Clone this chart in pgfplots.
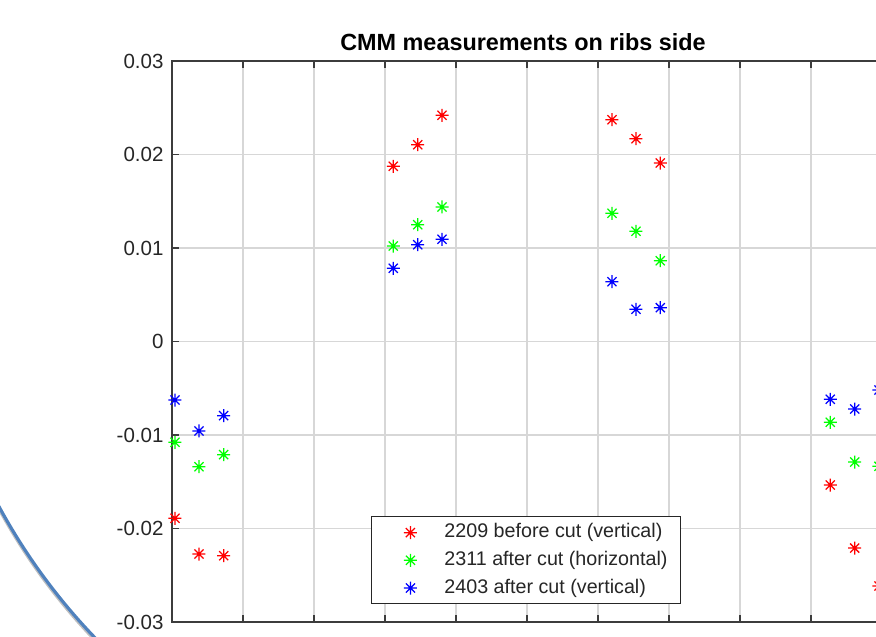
\documentclass[border=0pt]{standalone}
\usepackage{pgfplots}
\pgfplotsset{compat=1.18}
\usepackage{fontspec}
\setmainfont{Liberation Sans}
\definecolor{axgray}{RGB}{60,60,60}
\definecolor{txtgray}{RGB}{38,38,38}
\definecolor{gridgray}{RGB}{215,215,215}
\definecolor{arcblue}{RGB}{79,129,189}
\pgfdeclareplotmark{mstar}{%
  \pgfpathmoveto{\pgfqpoint{-\pgfplotmarksize}{0pt}}\pgfpathlineto{\pgfqpoint{\pgfplotmarksize}{0pt}}%
  \pgfpathmoveto{\pgfqpoint{0pt}{-\pgfplotmarksize}}\pgfpathlineto{\pgfqpoint{0pt}{\pgfplotmarksize}}%
  \pgfpathmoveto{\pgfqpoint{-0.7\pgfplotmarksize}{-0.7\pgfplotmarksize}}\pgfpathlineto{\pgfqpoint{0.7\pgfplotmarksize}{0.7\pgfplotmarksize}}%
  \pgfpathmoveto{\pgfqpoint{-0.7\pgfplotmarksize}{0.7\pgfplotmarksize}}\pgfpathlineto{\pgfqpoint{0.7\pgfplotmarksize}{-0.7\pgfplotmarksize}}%
  \pgfusepathqstroke}

\pgfplotstableread{
x y
0.042 -0.01891
0.380 -0.02273
0.728 -0.02291
3.117 0.01874
3.461 0.02105
3.803 0.02419
6.197 0.02372
6.535 0.02169
6.877 0.01909
9.272 -0.01535
9.615 -0.02209
9.957 -0.02615
}\redtab
\pgfplotstableread{
x y
0.042 -0.01078
0.380 -0.01339
0.728 -0.01210
3.117 0.01021
3.461 0.01249
3.803 0.01439
6.197 0.01371
6.535 0.01179
6.877 0.00864
9.272 -0.00864
9.615 -0.01289
9.957 -0.01335
}\greentab
\pgfplotstableread{
x y
0.042 -0.00626
0.380 -0.00957
0.728 -0.00793
3.117 0.00783
3.461 0.01035
3.803 0.01093
6.197 0.00640
6.535 0.00344
6.877 0.00362
9.272 -0.00618
9.615 -0.00722
9.957 -0.00519
}\bluetab

\begin{document}
\begin{tikzpicture}
\begin{axis}[
  scale only axis,
  width=745.5pt, height=561pt,
  xmin=0, xmax=10.5,
  ymin=-0.03, ymax=0.03,
  xtick={0,1,...,10},
  xticklabel=\empty,
  ytick={-0.03,-0.02,-0.01,0,0.01,0.02,0.03},
  yticklabels={-0.03,-0.02,-0.01,0,0.01,0.02,0.03},
  scaled y ticks=false,
  yticklabel style={font=\fontsize{20.5}{24}\selectfont, text=txtgray, anchor=east, xshift=-5pt},
  tick align=inside,
  major tick length=7pt,
  tick style={axgray, line width=1.1pt},
  axis line style={axgray, line width=1.2pt},
  grid=major,
  major grid style={gridgray, line width=1.1pt},
  clip=false,
  title={CMM measurements on ribs side},
  title style={font=\bfseries\fontsize{23.4}{27}\selectfont, at={(axis cs:4.944,0.03)}, anchor=base, yshift=4.5pt, inner sep=0pt},
  legend cell align=left,
  legend image code/.code={\path[draw=none] (0pt,0pt) -- (60pt,0pt); \path[#1, draw=none] plot coordinates {(30pt,0pt)};},
  legend style={at={(axis cs:2.803,-0.02811)}, anchor=south west,
    draw=txtgray, line width=0.9pt, fill=white,
    font=\fontsize{19.7}{23}\selectfont, text=txtgray,
    inner xsep=9pt, inner ysep=2pt, row sep=0pt,
    nodes={text height=14.2pt, text depth=4pt, inner ysep=4.75pt, inner xsep=4pt, anchor=west}},
]
\addplot[only marks, mark=mstar, mark size=6.5pt, line width=1.25pt, color=red] table[x=x,y=y] {\redtab};
\addlegendentry{2209 before cut (vertical)}
\addplot[only marks, mark=mstar, mark size=6.5pt, line width=1.25pt, color=green] table[x=x,y=y] {\greentab};
\addlegendentry{2311 after cut (horizontal)}
\addplot[only marks, mark=mstar, mark size=6.5pt, line width=1.25pt, color=blue] table[x=x,y=y] {\bluetab};
\addlegendentry{2403 after cut (vertical)}
\end{axis}
\draw[black, opacity=0.25, line width=2.5pt] (361.5pt,402.5pt) circle[radius=608pt];
\draw[arcblue, line width=3.2pt] (360pt,404pt) circle[radius=606pt];
\pgfresetboundingbox
\useasboundingbox (-172pt,-15pt) rectangle (704pt,622pt);
\end{tikzpicture}
\end{document}
